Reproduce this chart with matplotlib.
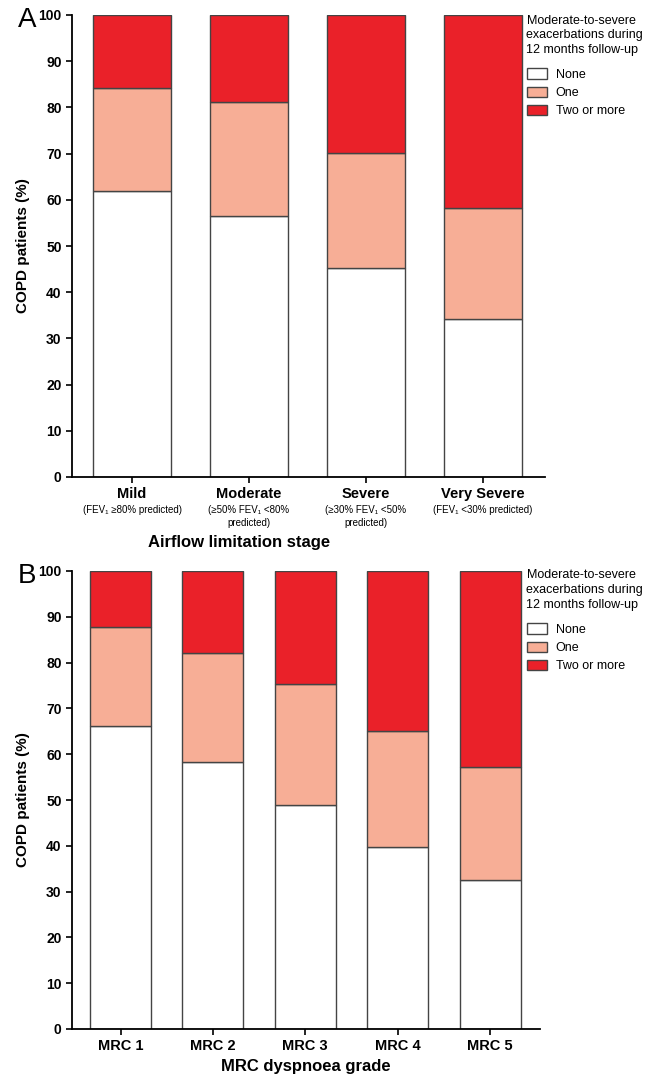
import matplotlib
matplotlib.use("Agg")
import matplotlib.pyplot as plt
from matplotlib.patches import Patch
import numpy as np

plt.rcParams['font.family'] = ['Liberation Sans', 'DejaVu Sans']

# Panel A data
stages = ["Mild", "Moderate", "Severe", "Very Severe"]
stage_sub = ["(FEV\u2081 \u226580% predicted)", "(\u226550% FEV\u2081 <80%\npredicted)",
             "(\u226530% FEV\u2081 <50%\npredicted)", "(FEV\u2081 <30% predicted)"]
a_none = [62.0, 56.5, 45.3, 34.2]
a_cum_one = [84.3, 81.1, 70.2, 58.3]

# Panel B data
mrc = ["MRC 1", "MRC 2", "MRC 3", "MRC 4", "MRC 5"]
b_none = [66.1, 58.3, 48.9, 39.7, 32.6]
b_cum_one = [87.8, 82.1, 75.3, 65.1, 57.2]

legend_labels = ["None", "One", "Two or more"]
legend_title = "Moderate-to-severe\nexacerbations during\n12 months follow-up"
colors = ["white", "#f7ae96", "#ea2129"]
edge = "#444444"

W, H = 659, 1076
fig = plt.figure(figsize=(W / 100, H / 100), dpi=100)

def fx(px):
    return px / W

def fy(py):
    return 1 - py / H

def draw(ax, cats, none, cum_one, width, xlim, leg_top):
    x = np.arange(len(cats))
    none = np.array(none)
    one = np.array(cum_one) - none
    two = 100 - np.array(cum_one)
    ax.bar(x, none, width, color=colors[0], edgecolor=edge, linewidth=1.0)
    ax.bar(x, one, width, bottom=none, color=colors[1], edgecolor=edge, linewidth=1.0)
    ax.bar(x, two, width, bottom=np.array(cum_one), color=colors[2], edgecolor=edge, linewidth=1.0)
    ax.set_ylim(0, 100)
    ax.set_xlim(*xlim)
    ax.set_yticks(range(0, 101, 10))
    ax.spines['top'].set_visible(False)
    ax.spines['right'].set_visible(False)
    ax.spines['left'].set_linewidth(1.3)
    ax.spines['bottom'].set_linewidth(1.3)
    ax.tick_params(axis='both', direction='out', length=4, width=1.2, labelsize=10)
    for t in ax.get_yticklabels():
        t.set_fontweight('bold')
    ax.set_ylabel("COPD patients (%)", fontsize=11, fontweight='bold', labelpad=6)
    handles = [Patch(facecolor=c, edgecolor=edge, linewidth=1.0) for c in colors]
    leg = ax.legend(handles, legend_labels, title=legend_title, loc='upper left',
                    bbox_to_anchor=(fx(524), fy(leg_top)), bbox_transform=fig.transFigure,
                    frameon=False, fontsize=9,
                    title_fontsize=9, alignment='left', handlelength=1.6,
                    handleheight=0.9, handletextpad=0.75, labelspacing=0.45,
                    borderaxespad=0, borderpad=0.2)
    leg.get_title().set_linespacing(1.3)
    leg._legend_box.sep = 9
    return x

# Panel A
axA = fig.add_axes([fx(72), fy(477), fx(545) - fx(72), fy(15) - fy(477)])
x = draw(axA, stages, a_none, a_cum_one, 0.667, (-0.513, 3.53), 12)
axA.set_xticks(x)
axA.set_xticklabels([""] * len(stages))
for i, (c, s) in enumerate(zip(stages, stage_sub)):
    axA.annotate(c, xy=(i, 0), xycoords='data', xytext=(0, -7), textcoords='offset points',
                 ha='center', va='top', fontsize=10.5, fontweight='bold')
    axA.annotate(s, xy=(i, 0), xycoords='data', xytext=(0, -20), textcoords='offset points',
                 ha='center', va='top', fontsize=7, linespacing=1.4)
fig.text(fx(239), fy(543), "Airflow limitation stage", ha='center', va='center',
         fontsize=12, fontweight='bold')
fig.text(fx(18), fy(20), "A", fontsize=20, ha='left', va='center')

# Panel B
axB = fig.add_axes([fx(72), fy(1029), fx(540) - fx(72), fy(571) - fy(1029)])
x = draw(axB, mrc, b_none, b_cum_one, 0.66, (-0.525, 4.54), 567)
axB.set_xticks(x)
axB.set_xticklabels(mrc, fontsize=10.5, fontweight='bold')
axB.set_xlabel("MRC dyspnoea grade", fontsize=12, fontweight='bold', labelpad=4)
fig.text(fx(18), fy(576), "B", fontsize=20, ha='left', va='center')

fig.savefig("out.png", dpi=100)
